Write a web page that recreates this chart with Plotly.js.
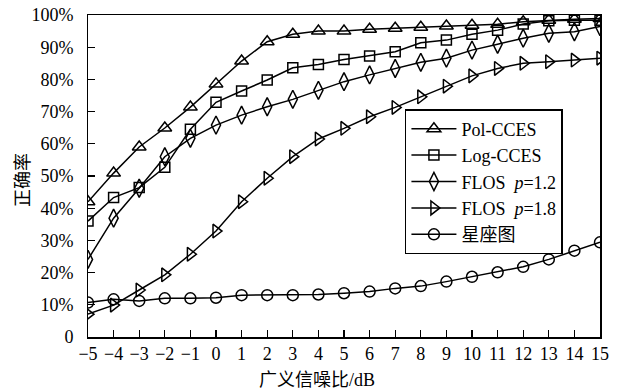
<!DOCTYPE html>
<html>
<head>
<meta charset="utf-8">
<script src="https://cdn.plot.ly/plotly-3.0.1.min.js"></script>
<style>html,body{margin:0;padding:0;background:#fff;}#chart{width:623px;height:392px;}</style>
</head>
<body>
<div id="chart"></div>
<script>
const snr = [-5,-4,-3,-2,-1,0,1,2,3,4,5,6,7,8,9,10,11,12,13,14,15];
const polCCES = [42.0,50.9,59.0,64.9,71.4,78.6,85.7,91.7,94.0,95.0,95.0,95.6,95.9,96.2,96.6,96.8,97.1,97.9,98.4,98.7,98.9];
const logCCES = [36.0,43.3,46.4,52.7,64.5,72.9,76.4,79.8,83.6,84.6,86.2,87.3,88.6,91.4,92.2,94.0,95.3,97.2,98.2,98.4,98.4];
const flos12 = [24.1,36.9,46.2,56.0,61.7,65.8,68.9,71.5,73.8,76.6,79.3,81.4,83.4,85.3,86.6,89.1,90.9,92.8,94.3,94.8,96.4];
const flos18 = [7.1,9.9,14.6,19.3,25.7,32.9,42.0,49.3,56.0,61.5,64.8,68.4,71.3,74.6,77.9,81.1,83.4,85.0,85.5,86.0,86.6];
const constellation = [10.7,11.7,11.2,12.0,12.0,12.2,13.0,13.0,13.0,13.2,13.6,14.1,15.1,15.8,17.2,18.7,20.1,21.8,24.1,26.8,29.4];
const seriesNames = ['Pol-CCES','Log-CCES','FLOS  <i>p</i>=1.2','FLOS  <i>p</i>=1.8','星座图'];
const yTickVals = [0,10,20,30,40,50,60,70,80,90,100];
const yTickText = ['0','10%','20%','30%','40%','50%','60%','70%','80%','90%','100%'];

const FONT = 'Liberation Serif, Times New Roman, Noto Sans CJK SC, serif';
const symbols = ['triangle-up-open','square-open','diamond-tall-open','triangle-right-open','circle-open'];
const sizes = [12,10,13,12,11];
const dataSets = [polCCES, logCCES, flos12, flos18, constellation];

const traces = dataSets.map((ys, i) => ({
  x: snr, y: ys, name: seriesNames[i], type: 'scatter', mode: 'lines+markers',
  yaxis: i === dataSets.length - 1 ? 'y2' : 'y',
  line: {color: '#000', width: 1.5},
  marker: {symbol: symbols[i], size: sizes[i], color: '#000', line: {color: '#000', width: 1.5}}
}));

const layout = {
  width: 623, height: 392,
  margin: {l: 88, r: 23, t: 15, b: 55},
  paper_bgcolor: '#fff', plot_bgcolor: '#fff',
  font: {family: FONT, size: 18, color: '#000'},
  showlegend: true,
  legend: {x: 0.619, y: 0.708, xanchor: 'left', yanchor: 'top', bordercolor: '#000', borderwidth: 1.5,
           bgcolor: '#fff', font: {family: FONT, size: 18}, itemwidth: 45, tracegroupgap: 0},
  xaxis: {range: [-5, 15], dtick: 1, tick0: -5, showgrid: false, zeroline: false,
          showline: true, linecolor: '#000', linewidth: 1.5, mirror: true,
          ticks: 'inside', ticklen: 7, tickwidth: 1.2, tickcolor: '#000',
          tickfont: {family: FONT, size: 18}},
  yaxis: {range: [0, 100], tickvals: yTickVals, showticklabels: false, showgrid: false, zeroline: false,
          showline: true, linecolor: '#000', linewidth: 1.5, mirror: true,
          ticks: 'inside', ticklen: 7, tickwidth: 1.2, tickcolor: '#000'},
  yaxis2: {range: [0, 100], overlaying: 'y', side: 'left', tickvals: yTickVals, ticktext: yTickText,
           showgrid: false, zeroline: false, showline: false,
           ticks: 'outside', ticklen: 10, tickcolor: 'rgba(0,0,0,0)',
           tickfont: {family: FONT, size: 18}},
  annotations: [
    {text: '广义信噪比/dB', xref: 'paper', yref: 'paper', x: 0.447, y: -0.171, xanchor: 'center', yanchor: 'bottom',
     showarrow: false, font: {family: FONT, size: 18}},
    {text: '正确率', xref: 'paper', yref: 'paper', x: -0.127, y: 0.4876, xanchor: 'center', yanchor: 'middle',
     textangle: -90, showarrow: false, font: {family: FONT, size: 18}}
  ]
};

Plotly.newPlot('chart', traces, layout, {displayModeBar: false, staticPlot: true});
</script>
</body>
</html>
